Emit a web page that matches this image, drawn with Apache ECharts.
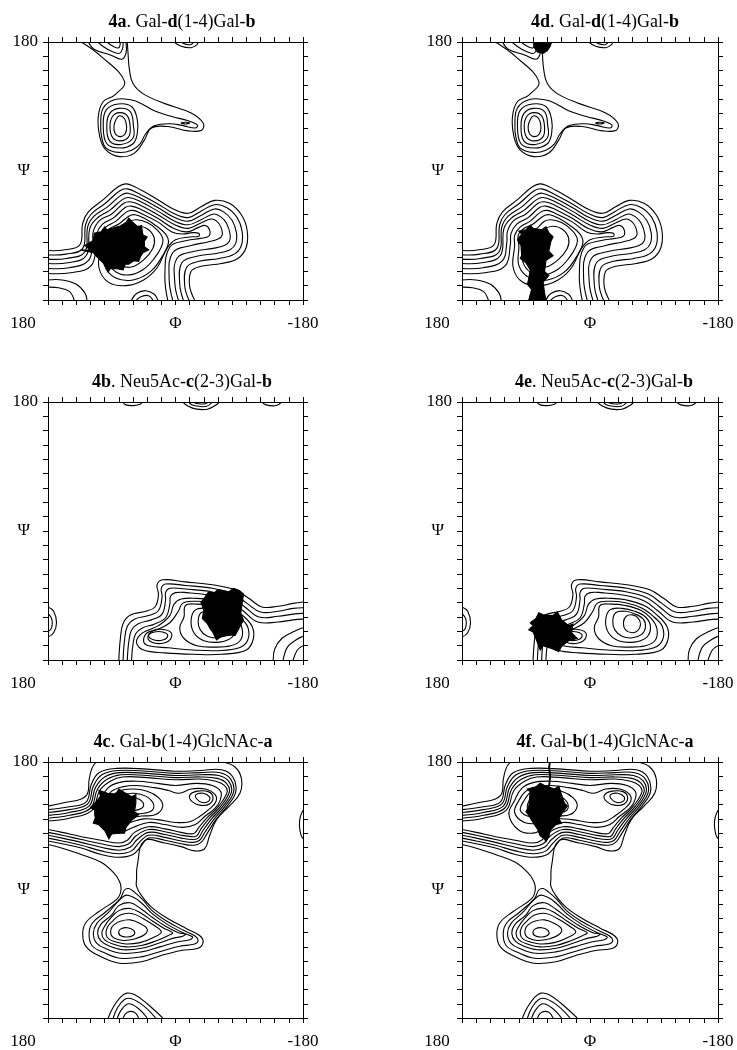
<!DOCTYPE html>
<html>
<head>
<meta charset="utf-8">
<script src="https://cdn.jsdelivr.net/npm/echarts@6/dist/echarts.min.js"></script>
<style>
html, body { margin: 0; padding: 0; background: #fff; }
#chart { width: 737px; height: 1050px; }
</style>
</head>
<body>
<div id="chart"></div>
<script>
// tick labels
const phiLabels = { '180': '180', '0': 'Φ', '-180': '-180' };
const psiLabels = { '180': '180', '0': 'Ψ' };

// ---- Gal-d(1-4)Gal-b map (panels 4a, 4d), [phi, psi]
const galDGal_open = [
  [[133,180],[105,160],[72,125],[86,106],[102,97],[109,76],[107,48],[98,29],[79,20],[58,25],[44,43],[34,60],[11,62],[-18,56],[-37,57],[-39,67],[-22,81],[15,94],[46,108],[60,122],[65,141],[67,164],[68,180]],
  [[123,180],[115,170],[92,162],[76,156],[70,164],[70,180]],
  [[110,180],[96,170],[80,164],[75,170],[74,180]],
  [[97,180],[88,174],[80,172],[78,180]],
  [[2,180],[-8,174],[-22,172],[-30,176],[-32,180]],
  [[-8,180],[-14,177],[-22,176.5],[-26,180]],
  [[180,-111],[156,-110],[135,-103],[131,-73],[123,-57],[102,-40],[81,-22],[69,-18],[48,-27],[25,-40],[1,-54],[-18,-59],[-36,-50],[-55,-41],[-76,-45],[-93,-61],[-101,-82],[-100,-106],[-88,-122],[-65,-129],[-36,-133],[-22,-140],[-20,-161],[-27,-180]],
  [[180,-117],[155,-116],[131,-108],[127,-75],[119,-60],[99,-45],[79,-28],[68,-25],[49,-33],[25,-46],[1,-60],[-18,-65],[-36,-56],[-55,-47],[-72,-51],[-87,-65],[-94,-84],[-93,-104],[-83,-116],[-62,-122],[-33,-126],[-16,-134],[-13,-160],[-19,-180]],
  [[180,-123],[154,-122],[128,-113],[124,-78],[115,-63],[96,-50],[77,-34],[67,-31],[49,-38],[25,-51],[1,-65],[-18,-70],[-36,-62],[-55,-53],[-68,-57],[-80,-69],[-86,-86],[-85,-101],[-77,-110],[-58,-115],[-30,-119],[-9,-128],[-6,-158],[-11,-180]],
  [[180,-129],[152,-128],[126,-118],[121,-80],[111,-66],[93,-55],[75,-40],[66,-37],[49,-43],[25,-56],[1,-70],[-18,-75],[-36,-68],[-54,-60],[-64,-64],[-72,-73],[-77,-88],[-76,-98],[-69,-104],[-53,-108],[-27,-112],[-2,-122],[1,-156],[-4,-180]],
  [[180,-136],[150,-135],[123,-125],[117,-100],[116,-84],[107,-69],[90,-60],[73,-45],[64,-43],[49,-48],[25,-61],[1,-75],[-18,-80],[-35,-73],[-50,-67],[-58,-70],[-64,-78],[-66,-89],[-60,-95],[-46,-99],[-22,-104],[4,-114],[9,-150],[4,-180]],
  [[180,-143],[148,-142],[119,-132],[112,-102],[111,-87],[103,-74],[87,-65],[71,-51],[62,-49],[48,-54],[25,-66],[3,-80],[-16,-85],[-32,-79],[-42,-76],[-48,-82],[-47,-91],[-35,-94],[-16,-97],[8,-106],[15,-145],[11,-180]],
  [[62,-180],[55,-171],[42,-167],[30,-172],[25,-180]],
  [[55,-180],[48,-175],[38,-174],[32,-180]],
  [[180,-152],[160,-152],[140,-158],[128,-170],[125,-180]],
  [[180,-162],[165,-163],[150,-168],[143,-180]]
];
const galDGal_rings = [
  [[87,62],[84,72],[79,77],[72,73],[69,62],[71,52],[78,48],[85,52]],
  [[92.5,62],[89,76],[79,81.4],[68,77],[64,62],[66,48],[78,42],[89,47]],
  [[97,63],[93,80],[80,87.4],[64,83],[59.5,64],[60,46],[77,37],[93,42]],
  [[102,64],[98,85],[81,93.5],[62,90],[54,72],[54,52],[60,38],[78,32],[97,38]],
  [[105.6,64],[102,88],[84,100],[62,99],[48,94],[30,84],[5,76],[-18,70],[-31,64],[-28,60],[-12,63],[8,66],[30,63],[42,52],[50,38],[62,29],[80,26],[98,32],[104,46]],
  [[-8,67],[-14,68],[-20,67],[-14,65.5]],
  [[106,-104],[106,-90],[98,-78],[84,-70],[69,-57],[60,-55],[47,-60],[25,-71],[5,-85],[-10,-88],[-24,-86],[-33,-87],[-33,-91],[-20,-92],[0,-96],[12,-108],[26,-135],[45,-152],[70,-160],[95,-155],[108,-135]],
  [[100,-105],[101,-90],[94,-81],[80,-74],[66,-63],[57,-61],[44,-66],[28,-76],[14,-88],[10,-100],[18,-118],[35,-140],[60,-152],[85,-149],[100,-132]],
  [[94,-106],[95,-93],[88,-86],[75,-80],[64,-70],[54,-68],[40,-72],[26,-82],[18,-94],[20,-106],[30,-122],[45,-137],[65,-145],[84,-141],[95,-125]],
  [[88,-106],[88,-95],[80,-89],[68,-82],[52,-77],[38,-82],[30,-94],[32,-108],[45,-124],[62,-134],[80,-131],[90,-120]]
];

// ---- Neu5Ac-c(2-3)Gal-b map (panels 4b, 4e)
const neuGal_open = [
  [[80,-180],[78,-152],[74,-129],[63,-117],[42,-112],[29,-106],[24,-89],[26,-75],[18,-68],[-14,-71],[-52,-75],[-84,-82],[-105,-95],[-122,-106],[-145,-105],[-166,-101],[-180,-99]],
  [[74,-180],[72,-153],[68,-133],[58,-123],[38,-118],[24,-111],[19,-92],[20,-80],[14,-74],[-14,-76],[-52,-80],[-82,-88],[-101,-101],[-120,-113],[-145,-112],[-166,-108],[-180,-107]],
  [[68,-180],[66,-155],[62,-138],[52,-129],[34,-124],[19,-116],[14,-96],[14,-86],[8,-80],[-14,-81],[-52,-85],[-80,-93],[-98,-106],[-118,-120],[-145,-119],[-166,-116],[-180,-115]],
  [[62,-180],[60,-158],[56,-143],[46,-135],[30,-130],[14,-121],[8,-102],[7,-91],[0,-86],[-16,-86],[-50,-90],[-77,-98],[-95,-111],[-116,-127],[-145,-127],[-166,-124],[-180,-123]],
  [[75,180],[70,176],[60,175],[50,177],[46,180]],
  [[-10,180],[-18,174],[-30,170],[-45,170],[-56,175],[-62,180]],
  [[-18,180],[-26,175],[-44,174],[-52,180]],
  [[-24,180],[-32,177.5],[-42,177.5],[-46,180]],
  [[-122,180],[-128,176],[-142,175],[-150,180]],
  [[180,-106],[172,-112],[168,-128],[172,-142],[180,-148]],
  [[180,-115],[175,-122],[174,-130],[176,-137],[180,-140]],
  [[-180,-135],[-168,-140],[-150,-150],[-140,-165],[-138,-180]],
  [[-180,-147],[-170,-152],[-158,-162],[-152,-180]],
  [[-180,-160],[-172,-166],[-166,-180]]
];
const neuGal_rings = [
  [[55,-156],[50,-145],[38,-138],[24,-132],[8,-118],[2,-102],[-8,-95],[-30,-94],[-50,-96],[-76,-104],[-94,-117],[-108,-133],[-110,-150],[-100,-166],[-65,-172],[-25,-172],[15,-170],[45,-166]],
  [[45,-154],[40,-142],[25,-137],[8,-128],[-4,-112],[-10,-101],[-25,-98],[-50,-100],[-74,-108],[-90,-120],[-102,-134],[-102,-152],[-90,-163],[-60,-167],[-25,-166],[10,-163],[38,-160]],
  [[-12,-120],[-14,-104],[-30,-102],[-50,-104],[-72,-111],[-86,-122],[-94,-136],[-92,-152],[-78,-160],[-55,-162],[-30,-160],[-12,-150],[-6,-135]],
  [[-22,-125],[-28,-110],[-45,-108],[-63,-112],[-78,-120],[-85,-133],[-80,-148],[-62,-155],[-40,-153],[-26,-142]],
  [[-32,-126],[-36,-114],[-50,-112],[-64,-116],[-75,-123],[-78,-134],[-73,-144],[-60,-149],[-45,-147],[-35,-138]],
  [[-47,-128],[-51,-119],[-60,-117],[-68,-122],[-71,-131],[-67,-139],[-59,-142],[-50,-138]],
  [[39,-148],[33,-140],[20,-137],[6,-142],[8,-152],[20,-157],[34,-155]],
  [[38,-146],[30,-141],[18,-141],[11,-146],[18,-152],[30,-152]]
];

// ---- Gal-b(1-4)GlcNAc-a map (panels 4c, 4f)
const galGlc_open = [
  [[180,118],[156,123],[133,128],[124,136],[122,155],[118,171],[112,180]],
  [[180,64],[161,59],[133,50],[105,39],[88,25],[79,12],[77,0],[82,-12],[109,-31],[126,-45],[131,-61],[126,-80],[105,-94],[79,-103],[48,-101],[20,-92],[-8,-85],[-32,-82],[-39,-73],[-34,-64],[-15,-54],[11,-40],[34,-24],[48,-8],[55,5],[55,15],[54,34],[44,69],[15,66],[-8,61],[-27,55],[-41,58],[-48,76],[-58,99],[-76,118],[-91,136],[-93,157],[-84,173],[-67,180]],
  [[180,113],[150,117],[126,124],[119,148],[108,165],[83,171],[40,170],[0,167],[-35,168],[-65,169],[-81,159],[-85,138],[-73,118],[-57,99],[-45,80],[-36,67],[-26,63],[-8,65],[15,70],[38,73],[50,60],[60,50],[80,46],[105,50],[133,59],[160,65],[180,69]],
  [[180,109],[150,113],[124,121],[116,146],[104,162],[81,168],[40,167],[0,164],[-35,165],[-63,165],[-78,156],[-82,138],[-70,118],[-54,99],[-42,82],[-34,70],[-25,67],[-8,69],[15,74],[38,77],[52,66],[62,55],[80,51],[105,55],[133,63],[160,69],[180,73]],
  [[180,105],[150,109],[122,118],[113,144],[100,159],[79,165],[40,164],[0,161],[-35,162],[-61,161],[-75,153],[-79,138],[-67,118],[-51,100],[-39,84],[-32,73],[-24,71],[-8,73],[15,78],[38,81],[54,71],[64,60],[80,56],[105,60],[133,67],[160,73],[180,77]],
  [[180,101],[150,105],[120,115],[110,142],[96,156],[77,162],[40,161],[0,158],[-35,159],[-59,157],[-72,150],[-76,138],[-64,118],[-48,101],[-36,86],[-30,76],[-23,75],[-8,77],[15,82],[38,85],[56,76],[66,65],[80,61],[105,65],[133,71],[160,77],[180,81]],
  [[180,97],[150,101],[118,112],[107,140],[92,153],[75,159],[40,158],[0,155],[-35,156],[-57,153],[-69,147],[-73,138],[-61,118],[-45,102],[-33,88],[-27,80],[-20,79],[-8,81],[15,86],[38,89],[58,81],[68,70],[80,66],[105,70],[133,75],[160,81],[180,85]],
  [[95,-180],[88,-165],[78,-151],[69,-145],[58,-147],[40,-160],[18,-180]],
  [[88,-180],[82,-166],[72,-154],[62,-153],[45,-163],[28,-180]],
  [[82,-180],[76,-168],[66,-160],[52,-167],[40,-180]],
  [[74,-180],[68,-172],[58,-172],[52,-180]],
  [[-180,112],[-176,102],[-175,90],[-177,78],[-180,72]]
];
const galGlc_rings = [
  [[114,106],[106,126],[96,143],[80,151],[55,153],[25,150],[0,147],[-30,150],[-52,147],[-64,138],[-63,126],[-56,115],[-42,104],[-28,92],[-10,88],[15,92],[38,95],[60,88],[80,80],[100,84]],
  [[106,109],[100,126],[90,139],[75,145],[55,147],[30,144],[10,140],[-5,136],[-22,142],[-42,142],[-56,134],[-57,124],[-48,114],[-35,104],[-20,96],[0,95],[25,99],[45,100],[70,94],[92,95]],
  [[98,112],[92,127],[82,138],[62,142],[40,139],[24,130],[18,118],[28,106],[48,104],[72,101],[88,104]],
  [[88,115],[84,128],[74,134],[58,136],[42,132],[32,123],[32,113],[44,108],[64,107],[80,109]],
  [[76,118],[72,127],[62,130],[50,127],[45,119],[52,113],[66,112]],
  [[-20,133],[-31,139],[-47,138],[-53,130],[-48,121],[-36,119],[-24,124]],
  [[-29,134],[-39,136],[-48,131],[-47,125],[-38,123],[-30,128]],
  [[72,0],[78,-12],[100,-32],[117,-46],[122,-61],[118,-78],[101,-88],[78,-96],[48,-94],[20,-86],[-6,-79],[-27,-76],[-32,-71],[-28,-65],[-12,-57],[12,-44],[33,-29],[46,-14],[58,-3],[66,2]],
  [[72,-8],[96,-33],[111,-47],[116,-61],[111,-75],[97,-83],[76,-89],[48,-87],[22,-80],[-2,-73],[-20,-70],[-24,-66],[-10,-60],[12,-48],[32,-34],[46,-20],[60,-10]],
  [[90,-35],[106,-49],[110,-61],[105,-72],[93,-79],[74,-84],[48,-82],[24,-75],[4,-68],[-10,-65],[-14,-62],[-4,-60],[14,-51],[32,-39],[48,-27],[64,-18],[80,-22]],
  [[100,-51],[104,-61],[100,-70],[88,-76],[70,-80],[48,-78],[26,-71],[10,-64],[4,-60],[16,-54],[32,-44],[48,-33],[64,-26],[80,-29],[92,-40]],
  [[96,-52],[98,-62],[94,-69],[84,-73],[70,-76],[50,-74],[32,-67],[20,-59],[30,-50],[46,-40],[62,-33],[78,-35],[89,-44]],
  [[91,-55],[91,-63],[86,-68],[74,-71],[58,-69],[44,-63],[40,-55],[50,-47],[64,-42],[78,-44],[87,-49]],
  [[80,-58],[78,-64],[67,-66],[58,-62],[60,-56],[68,-53],[76,-54]]
];

// ---- trajectory clouds (outline of the black area)
const blob4a = [
  [[122.6,-108],[128,-104],[116,-97],[114.6,-87],[105,-85],[100,-78],[96.7,-82.4],[86,-79],[78,-76.9],[70,-72],[66,-66],[61.4,-70.8],[53.4,-77.8],[48,-76],[47,-84],[45.9,-89.4],[40,-92],[44,-98],[44,-105.7],[38,-110],[46,-114],[49.6,-119.6],[52,-126],[59.1,-125.2],[66,-130],[70.8,-129.8],[74,-138],[82.6,-136.3],[92,-135.9],[95,-141],[101.4,-128.9],[110.8,-119.6],[116,-114],[134,-110],[120.2,-111.2]]
];
const blob4d = [
  [[96,-88],[100,-84],[90,-82],[84,-76],[80,-80],[68,-82],[62,-78],[58,-86],[52,-92],[55,-98],[58,-112],[52,-118],[62,-125],[64,-140],[58,-146],[66,-155],[64,-170],[62,-180],[86,-180],[82,-165],[88,-158],[86,-150],[84,-138],[90,-128],[98,-122],[96,-118],[97,-104],[102,-96]],
  [[80,180],[78,172],[74,166],[66,164],[60,168],[56,174],[54,180]]
];
const blob4b = [
  [[-42,-92],[-46,-86],[-55,-86],[-60,-82],[-75,-85],[-82,-80],[-90,-83],[-96,-88],[-95,-95],[-92,-115],[-96,-124],[-90,-135],[-84,-146],[-80,-145],[-65,-147],[-58,-152],[-52,-140],[-44,-128],[-38,-122],[-40,-110],[-36,-100]]
];
const blob4e = [
  [[80,-132],[84,-128],[76,-122],[72,-114],[66,-117],[52,-118],[46,-113],[40,-124],[30,-132],[24,-130],[26,-142],[18,-150],[30,-153],[40,-161],[44,-168],[54,-164],[66,-160],[70,-166],[76,-150],[80,-141],[86,-138]]
];
const blob4c = [
  [[114,112],[120,116],[112,124],[106,132],[108,140],[96,136],[84,135],[80,142],[72,137],[62,131],[56,134],[56,122],[58,110],[52,106],[62,98],[70,88],[72,80],[80,80],[90,79],[94,72],[100,84],[108,92],[116,94],[113,102]]
];
const blob4f = [
  [[84,138],[88,142],[76,145],[70,150],[62,146],[50,142],[44,146],[40,134],[36,122],[32,118],[38,110],[44,100],[40,94],[48,92],[55,85],[58,76],[62,68],[64,72],[70,76],[74,86],[80,95],[86,105],[90,110],[86,118]],
  [[57,146],[55.5,160],[57,172],[56,180],[57,180],[58,172],[56.5,160],[58,146]]
];

const panels = [
  { title: '{b|4a}. Gal-{b|d}(1-4)Gal-{b|b}', open: galDGal_open, rings: galDGal_rings, blobs: blob4a, left: 48, top: 42, width: 255, cx: 177 },
  { title: '{b|4d}. Gal-{b|d}(1-4)Gal-{b|b}', open: galDGal_open, rings: galDGal_rings, blobs: blob4d, left: 462, top: 42, width: 256, cx: 600 },
  { title: '{b|4b}. Neu5Ac-{b|c}(2-3)Gal-{b|b}', open: neuGal_open, rings: neuGal_rings, blobs: blob4b, left: 48, top: 402, width: 255, cx: 177 },
  { title: '{b|4e}. Neu5Ac-{b|c}(2-3)Gal-{b|b}', open: neuGal_open, rings: neuGal_rings, blobs: blob4e, left: 462, top: 402, width: 256, cx: 599 },
  { title: '{b|4c}. Gal-{b|b}(1-4)GlcNAc-{b|a}', open: galGlc_open, rings: galGlc_rings, blobs: blob4c, left: 48, top: 762, width: 255, cx: 178 },
  { title: '{b|4f}. Gal-{b|b}(1-4)GlcNAc-{b|a}', open: galGlc_open, rings: galGlc_rings, blobs: blob4f, left: 462, top: 762, width: 256, cx: 600 }
];

const FONT = 'Liberation Serif';
const INK = '#000';
const LABEL_SIZE = 17;
const TITLE_SIZE = 18;

function axisBase(gi) {
  return {
    gridIndex: gi,
    type: 'value',
    min: -180,
    max: 180,
    interval: 20,
    splitLine: { show: false },
    axisLine: { show: true, onZero: false, lineStyle: { color: INK, width: 1 } },
    axisTick: { show: true, inside: false, length: 5, lineStyle: { color: INK, width: 1 } },
    axisLabel: { show: false }
  };
}

function lineRenderer(shapes, closed) {
  return function (params, api) {
    const pts = shapes[params.dataIndex].map(function (p) { return api.coord(p); });
    return {
      type: closed ? 'polygon' : 'polyline',
      shape: { points: pts, smooth: 0.4 },
      style: { fill: 'none', stroke: INK, lineWidth: 1.1 }
    };
  };
}

function blobRenderer(shapes) {
  return function (params, api) {
    const pts = shapes[params.dataIndex].map(function (p) { return api.coord(p); });
    return {
      type: 'polygon',
      shape: { points: pts },
      style: { fill: INK, stroke: INK, lineWidth: 1.2, lineJoin: 'miter' }
    };
  };
}

const grid = [], xAxis = [], yAxis = [], series = [], title = [];

panels.forEach(function (p, i) {
  grid.push({ left: p.left, top: p.top, width: p.width, height: 258 });

  title.push({
    text: p.title,
    left: p.cx,
    top: p.top - 34,
    textAlign: 'center',
    textStyle: {
      fontFamily: FONT, fontSize: TITLE_SIZE, fontWeight: 'normal', color: INK,
      rich: { b: { fontFamily: FONT, fontSize: TITLE_SIZE, fontWeight: 'bold', color: INK } }
    }
  });

  const xb = axisBase(i);
  xb.position = 'bottom';
  xb.inverse = true;
  xb.axisLabel = {
    show: true, margin: 15, showMinLabel: true, showMaxLabel: true, hideOverlap: false,
    fontFamily: FONT, fontSize: LABEL_SIZE, color: INK,
    formatter: function (v) {
      const t = phiLabels[String(v)] || '';
      return v === 180 ? '{l|' + t + '}' : t;
    },
    rich: { l: { fontFamily: FONT, fontSize: LABEL_SIZE, color: INK, padding: [0, 50, 0, 0] } }
  };
  const xt = axisBase(i);
  xt.position = 'top';
  xt.inverse = true;
  xAxis.push(xb, xt);

  const yl = axisBase(i);
  yl.position = 'left';
  yl.axisLabel = {
    show: true, margin: 10, showMinLabel: true, showMaxLabel: true, hideOverlap: false,
    fontFamily: FONT, fontSize: LABEL_SIZE, color: INK,
    formatter: function (v) {
      const t = psiLabels[String(v)] || '';
      return v === 0 ? '{p|' + t + '}' : t;
    },
    rich: { p: { fontFamily: FONT, fontSize: LABEL_SIZE, color: INK, padding: [0, 8, 0, 0] } }
  };
  const yr = axisBase(i);
  yr.position = 'right';
  yAxis.push(yl, yr);

  const common = {
    type: 'custom', coordinateSystem: 'cartesian2d',
    xAxisIndex: 2 * i, yAxisIndex: 2 * i,
    clip: true, silent: true, animation: false
  };
  series.push(Object.assign({}, common, {
    data: p.open.map(function (c) { return c[0]; }),
    renderItem: lineRenderer(p.open, false)
  }));
  series.push(Object.assign({}, common, {
    data: p.rings.map(function (c) { return c[0]; }),
    renderItem: lineRenderer(p.rings, true)
  }));
  series.push(Object.assign({}, common, {
    data: p.blobs.map(function (c) { return c[0]; }),
    renderItem: blobRenderer(p.blobs)
  }));
});

const chart = echarts.init(document.getElementById('chart'), null, { renderer: 'canvas' });
chart.setOption({
  backgroundColor: '#fff',
  animation: false,
  title: title,
  grid: grid,
  xAxis: xAxis,
  yAxis: yAxis,
  series: series
});
</script>
</body>
</html>
